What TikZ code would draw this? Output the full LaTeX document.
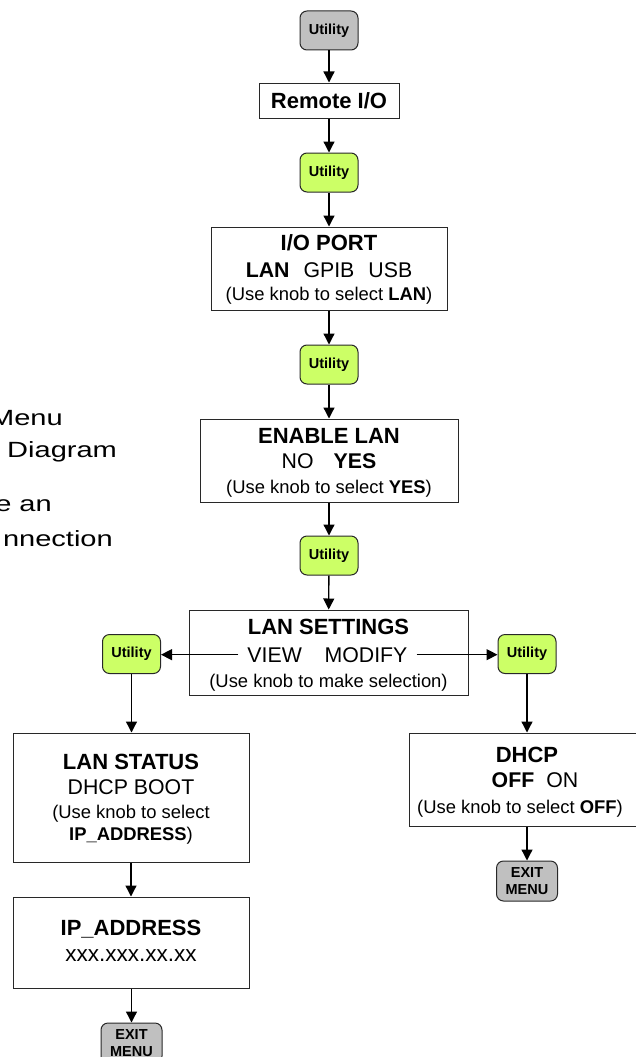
\documentclass[tikz,border=0pt]{standalone}
\usepackage{fontspec}
\setmainfont{Liberation Sans}
\newfontfamily\widefont[FakeStretch=1.32]{Liberation Sans}
\usetikzlibrary{arrows.meta}
\definecolor{utilgreen}{RGB}{204,255,102}
\definecolor{exitgray}{RGB}{192,192,192}
\definecolor{edgecol}{RGB}{40,40,40}
\begin{document}
\begin{tikzpicture}[x=1pt,y=-1pt,
  box/.style={draw=edgecol, line width=1pt, fill=white, inner sep=0pt},
  util/.style={draw=edgecol, line width=1pt, rounded corners=7pt, fill=utilgreen,
    minimum width=58pt, minimum height=39pt, inner sep=0pt,
    font=\fontsize{14.5}{14.5}\selectfont\bfseries},
  exitbox/.style={draw=edgecol, line width=1pt, rounded corners=7pt, fill=exitgray,
    minimum width=61pt, minimum height=40pt, inner sep=0pt, align=center,
    font=\fontsize{14.5}{17}\selectfont\bfseries},
  lnT/.style={anchor=base, inner sep=0pt, font=\fontsize{22}{22}\selectfont\bfseries},
  lnM/.style={anchor=base, inner sep=0pt, font=\fontsize{21.3}{21.3}\selectfont},
  lnS/.style={anchor=base, inner sep=0pt, font=\fontsize{18.4}{18.4}\selectfont},
  side/.style={inner sep=0pt, font=\widefont\fontsize{22}{22}\selectfont},
  arr/.style={-{Triangle[width=11pt,length=11pt]}, line width=1.3pt, draw=black}
]
\useasboundingbox (0,0) rectangle (635,1057);

% side text (cut at the left edge, as in the reference)
\node[side, anchor=base east] (sA) at (63,425) {Menu};
\node[side, anchor=base west] (sB) at (7,457) {Diagram};
\node[side, anchor=base east] (sC) at (52,511) {e an};
\node[side, anchor=base east] (sD) at (113,546) {nnection};

% main column
\node[util, fill=exitgray] (u1) at (329,30.5) {Utility};
\node[box, minimum width=140pt, minimum height=35pt,
      font=\fontsize{22}{22}\selectfont\bfseries] (rio) at (329,100.5) {Remote I/O};
\node[util] (u2) at (329,172.5) {Utility};

\node[box, minimum width=236pt, minimum height=83pt] (iop) at (329,268.5) {};
\node[lnT] (iopA) at (329,250.7) {I/O PORT};
\node[lnM] (iopB) at (329,277) {\textbf{LAN}\hspace{14pt}GPIB\hspace{14pt}USB};
\node[lnS] (iopC) at (329,300) {(Use knob to select \textbf{LAN})};

\node[util] (u3) at (329,364.5) {Utility};

\node[box, minimum width=258pt, minimum height=83pt] (en) at (329,460.5) {};
\node[lnT] (enA) at (329,443) {ENABLE LAN};
\node[lnM] (enB) at (329,468) {NO\hspace{20pt}\textbf{YES}};
\node[lnS] (enC) at (329,493) {(Use knob to select \textbf{YES})};

\node[util] (u4) at (329,555.5) {Utility};

\node[box, minimum width=279pt, minimum height=85pt] (ls) at (328.5,652.5) {};
\node[lnT] (lsA) at (328.5,634) {LAN SETTINGS};
\node[lnM, inner xsep=9pt] (view) at (274.7,662) {VIEW};
\node[lnM, inner xsep=9pt] (modify) at (366,662) {MODIFY};
\node[lnS] (lsC) at (328.5,687) {(Use knob to make selection)};

\node[util] (ul) at (131.5,654) {Utility};
\node[util] (ur) at (527,654) {Utility};

% left branch
\node[box, minimum width=236pt, minimum height=129pt] (lst) at (131,797.5) {};
\node[lnT] (lstA) at (131,769) {LAN STATUS};
\node[lnM] (lstB) at (131,794) {DHCP BOOT};
\node[lnS] (lstC) at (131,818) {(Use knob to select};
\node[lnS] (lstD) at (131,840) {\textbf{IP\_ADDRESS})};

\node[box, minimum width=236pt, minimum height=91pt] (ip) at (131,942.5) {};
\node[lnT] (ipA) at (131,935) {IP\_ADDRESS};
\node[lnM, font=\fontsize{22.5}{22.5}\selectfont] (ipB) at (131,961) {xxx.xxx.xx.xx};

\node[exitbox] (ex1) at (131.5,1043) {EXIT\\MENU};

% right branch
\node[box, minimum width=231pt, minimum height=93pt] (dh) at (524.5,779.5) {};
\node[lnT] (dhA) at (527,762) {DHCP};
\node[lnM] (dhB) at (535,787) {\textbf{OFF}\hspace{12pt}ON};
\node[lnS] (dhC) at (520,813) {(Use knob to select \textbf{OFF})};

\node[exitbox] (ex2) at (527,881) {EXIT\\MENU};

% connectors
\draw[arr] (u1) -- (rio);
\draw[arr] (rio) -- (u2);
\draw[arr] (u2) -- (iop);
\draw[arr] (iop) -- (u3);
\draw[arr] (u3) -- (en);
\draw[arr] (en) -- (u4);
\draw[arr] (u4) -- (ls);
\draw[arr] (view.west) -- (view.west -| ul.east);
\draw[arr] (modify.east) -- (modify.east -| ur.west);
\draw[arr] (ul.south) -- (ul.south |- lst.north);
\draw[arr] (lst.south -| ip.north) -- (ip.north);
\draw[arr] (ip.south -| ex1.north) -- (ex1.north);
\draw[arr] (ur.south) -- (ur.south |- dh.north);
\draw[arr] (ex2.north |- dh.south) -- (ex2.north);
\end{tikzpicture}
\end{document}
